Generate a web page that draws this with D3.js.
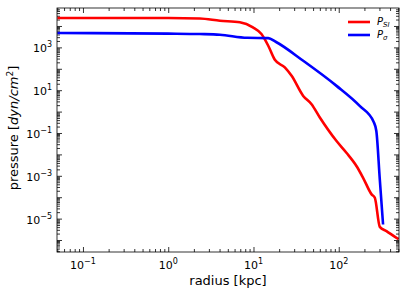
<!DOCTYPE html>
<html lang="en">
<head>
<meta charset="UTF-8">
<title>pressure profile</title>
<style>
  body { margin: 0; background: #fff; }
  text { font-family: "DejaVu Sans", sans-serif; fill: #000; }
</style>
</head>
<body>
<div id="chart"></div>
<script src="https://d3js.org/d3.v7.min.js"></script>
<script>
// radius [kpc] and pressure [dyn/cm^2]
var radiusSI = [0.05, 1, 2.35, 4.04, 6.92, 9.84, 12.4, 14.9, 17.8, 23.3, 28.0, 38.3, 48.0, 60.0, 94.2, 123, 162, 193, 243, 265, 303, 363, 476, 505];
var pressSI  = [2.35e4, 2.35e4, 2.25e4, 1.76e4, 1.48e4, 8.6e3, 4.2e3, 1.19e3, 262, 116, 46.8, 5.4, 2.2, 0.53, 0.042, 0.012, 2.8e-3, 8.1e-4, 1.35e-4, 9.4e-5, 4.1e-6, 2.6e-6, 1.26e-6, 1.1e-6];
var radiusSig = [0.05, 1, 2.35, 4.04, 8.44, 14.9, 18.2, 38.3, 94.2, 176, 257, 276, 303, 331];
var pressSig  = [4.7e3, 4.4e3, 4.2e3, 3.9e3, 2.8e3, 2.7e3, 1.83e3, 236, 15.9, 1.84, 0.33, 0.124, 6.8e-4, 5.3e-6];
var xLabelExp = [-1, 0, 1, 2];
var yLabelExp = [-5, -3, -1, 1, 3];

var W = 407, H = 291;
var margin = {top: 8, right: 8, bottom: 39, left: 57};
var w = W - margin.left - margin.right, h = H - margin.top - margin.bottom;

var svg = d3.select("#chart").append("svg").attr("width", W).attr("height", H);
var g = svg.append("g").attr("transform", "translate(" + margin.left + "," + margin.top + ")");

var x = d3.scaleLog().domain([0.0496, 509]).range([0, w]);
var y = d3.scaleLog().domain([Math.pow(10, -6.56), Math.pow(10, 4.84)]).range([h, 0]);

// tick positions: every decade major, 2..9 minor
function logTicks(lo, hi) {
    var maj = [], min = [];
    for (var e = Math.floor(Math.log10(lo)); e <= Math.ceil(Math.log10(hi)); e++) {
        var p = Math.pow(10, e);
        if (p >= lo && p <= hi) maj.push(p);
        for (var k = 2; k <= 9; k++) {
            if (k * p >= lo && k * p <= hi) min.push(k * p);
        }
    }
    return {maj: maj, min: min};
}
var xt = logTicks(x.domain()[0], x.domain()[1]);
var yt = logTicks(y.domain()[0], y.domain()[1]);

function tickAxis(axisFn, scale, vals, size, tr) {
    var a = g.append("g").attr("transform", tr)
        .call(axisFn(scale).tickValues(vals).tickSizeInner(-size).tickSizeOuter(0).tickFormat(""));
    a.select(".domain").remove();
    a.selectAll("line").attr("stroke", "#000").attr("stroke-width", 0.8);
}
tickAxis(d3.axisBottom, x, xt.maj, 5, "translate(0," + h + ")");
tickAxis(d3.axisBottom, x, xt.min, 3, "translate(0," + h + ")");
tickAxis(d3.axisTop, x, xt.maj, 5, "translate(0,0)");
tickAxis(d3.axisTop, x, xt.min, 3, "translate(0,0)");
tickAxis(d3.axisLeft, y, yt.maj, 5, "translate(0,0)");
tickAxis(d3.axisLeft, y, yt.min, 3, "translate(0,0)");
tickAxis(d3.axisRight, y, yt.maj, 5, "translate(" + w + ",0)");
tickAxis(d3.axisRight, y, yt.min, 3, "translate(" + w + ",0)");

// curves
g.append("clipPath").attr("id", "clip").append("rect").attr("width", w).attr("height", h);
var line = d3.line().x(function (d) { return x(d[0]); }).y(function (d) { return y(d[1]); }).curve(d3.curveMonotoneX);
var plot = g.append("g").attr("clip-path", "url(#clip)");
plot.append("path").datum(d3.zip(radiusSI, pressSI))
    .attr("d", line).attr("fill", "none").attr("stroke", "#ff0000").attr("stroke-width", 2.6);
plot.append("path").datum(d3.zip(radiusSig, pressSig))
    .attr("d", line).attr("fill", "none").attr("stroke", "#0000ff").attr("stroke-width", 2.6);

// frame
g.append("rect").attr("width", w).attr("height", h)
    .attr("fill", "none").attr("stroke", "#000").attr("stroke-width", 0.8);

// tick labels
xLabelExp.forEach(function (e) {
    var t = g.append("text").attr("x", x(Math.pow(10, e))).attr("y", h + 17)
        .attr("text-anchor", "middle").style("font-size", "11px");
    t.append("tspan").text("10");
    t.append("tspan").attr("dy", -5).style("font-size", "8px").text(e < 0 ? "\u2212" + (-e) : e);
});
yLabelExp.forEach(function (e) {
    var t = g.append("text").attr("x", -5).attr("y", y(Math.pow(10, e)) + 5)
        .attr("text-anchor", "end").style("font-size", "11px");
    t.append("tspan").text("10");
    t.append("tspan").attr("dy", -5).style("font-size", "8px").text(e < 0 ? "\u2212" + (-e) : e);
});

// axis titles
g.append("text").attr("x", w / 2).attr("y", h + 33).attr("text-anchor", "middle")
    .style("font-size", "13px").text("radius [kpc]");
var yl = svg.append("text").attr("transform", "translate(18," + (margin.top + 120) + ") rotate(-90)")
    .attr("text-anchor", "middle").style("font-size", "13px");
yl.append("tspan").text("pressure [");
yl.append("tspan").style("font-style", "italic").text("dyn/cm");
yl.append("tspan").attr("dy", -5).style("font-size", "9px").text("2");
yl.append("tspan").attr("dy", 5).text("]");

// legend
var legend = [{c: "#ff0000", s: "SI"}, {c: "#0000ff", s: "\u03c3"}];
legend.forEach(function (d, i) {
    var ly = 14 + i * 13;
    g.append("line").attr("x1", 291).attr("x2", 313).attr("y1", ly).attr("y2", ly)
        .attr("stroke", d.c).attr("stroke-width", 2.6);
    var t = g.append("text").attr("x", 320).attr("y", ly + 3).style("font-size", "10px").style("font-style", "italic");
    t.append("tspan").text("P");
    t.append("tspan").attr("dy", 2).style("font-size", "7px").text(d.s);
});
</script>
</body>
</html>
